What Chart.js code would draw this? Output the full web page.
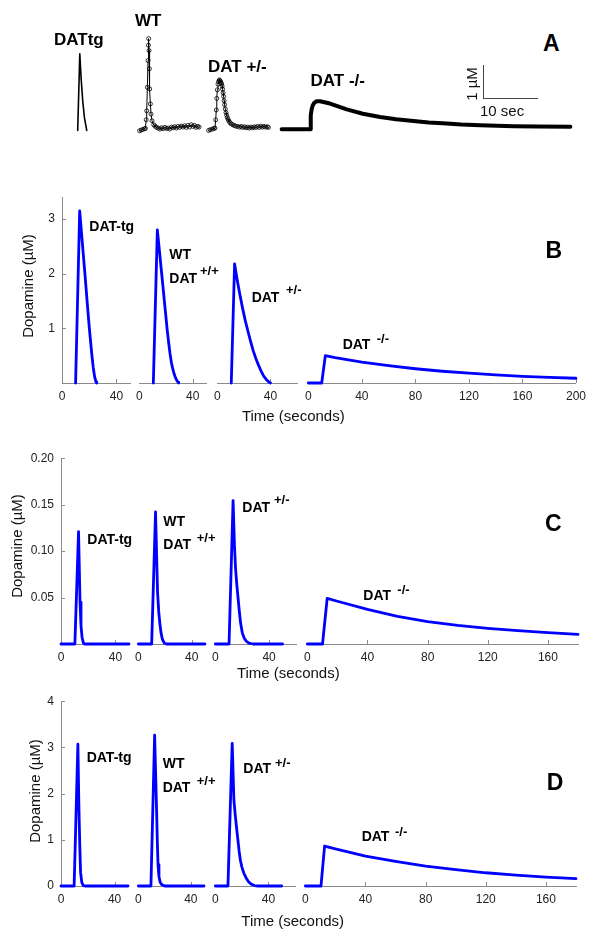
<!DOCTYPE html>
<html><head><meta charset="utf-8">
<script src="https://cdn.jsdelivr.net/npm/chart.js@4.4.0/dist/chart.umd.min.js"></script>
<style>
html,body{margin:0;padding:0;background:#fff;}
#fig{position:relative;width:600px;height:951px;overflow:hidden;font-family:"Liberation Sans",Arial,sans-serif;background:#fff;}
canvas{position:absolute;}
.t{position:absolute;white-space:nowrap;line-height:1;color:#000;}
.lb{font-weight:bold;font-size:14px;}
.sp{font-weight:bold;font-size:13px;}
.al{font-weight:bold;font-size:17px;}
.pl{font-weight:bold;font-size:23px;}
.ax{font-size:15px;color:#111;}
.sb{font-size:15px;color:#111;}
.ln{position:absolute;background:#444;}
</style></head><body><div id="fig"></div>
<script>
// ---------- DATA (time in seconds, dopamine in µM) ----------
// Panel A: recorded traces
const A_TG = [[0,0],[0.37,2.33],[0.6,1.6],[0.9,0.88],[1.2,0.38],[1.6,0]];
const A_WT = [[0,-0.08],[0.3,-0.06],[0.6,-0.04],[0.9,-0.02],[1.05,-0.01],[1.2,0.25],[1.29,0.52],[1.41,1.23],[1.53,2.04],[1.6,2.5],[1.65,2.7],[1.71,2.34],[1.78,1.79],[1.84,1.18],[1.96,0.73],[2.08,0.42],[2.26,0.22],[2.57,0.1],[2.8,0.06],[3.07,0.02],[3.4,0.0],[3.7,-0.03],[4.0,0.01],[4.3,-0.02],[4.6,0.02],[4.9,-0.01],[5.2,0.0],[5.5,-0.03],[5.8,0.03],[6.1,0.01],[6.4,0.04],[6.7,0.0],[7.0,0.05],[7.3,0.02],[7.6,0.06],[7.9,0.03],[8.2,0.07],[8.5,0.02],[8.8,0.08],[9.1,0.03],[9.4,0.1],[9.7,0.05],[10.0,0.08],[10.3,0.02],[10.6,0.05],[10.85,0.03]];
const A_HET = [[0,-0.07],[0.3,-0.05],[0.68,-0.03],[1.0,-0.01],[1.17,0],[1.3,0.25],[1.41,0.55],[1.5,0.9],[1.6,1.16],[1.72,1.33],[1.84,1.41],[1.97,1.46],[2.06,1.44],[2.15,1.42],[2.27,1.38],[2.39,1.34],[2.48,1.27],[2.57,1.18],[2.66,1.07],[2.76,0.96],[2.85,0.83],[2.94,0.71],[3.07,0.58],[3.2,0.47],[3.32,0.39],[3.44,0.32],[3.6,0.26],[3.75,0.21],[3.95,0.16],[4.17,0.13],[4.45,0.1],[4.72,0.08],[5.0,0.06],[5.33,0.05],[5.7,0.03],[6.0,0.05],[6.3,0.02],[6.6,0.04],[6.9,0.01],[7.2,0.03],[7.5,0.0],[7.8,0.03],[8.1,0.01],[8.4,0.04],[8.7,0.02],[9.0,0.05],[9.3,0.02],[9.6,0.06],[9.9,0.03],[10.2,0.05],[10.5,0.03],[10.8,0.04],[11.0,0.02]];
const A_KO = [[0,0],[5.33,0],[5.33,0.21],[5.36,0.42],[5.5,0.6],[5.7,0.72],[5.94,0.79],[6.43,0.85],[7.04,0.85],[8.88,0.78],[11.95,0.6],[14.9,0.47],[18.07,0.37],[21,0.3],[24.2,0.25],[27,0.205],[30.3,0.17],[33,0.14],[36.45,0.12],[39.5,0.105],[42.6,0.09],[47,0.08],[53,0.07]];

// Panel B
const B_TG  = [[10,0],[13,3.15],[15,2.55],[17,1.95],[19,1.33],[20,1.03],[21,0.76],[22,0.5],[23,0.28],[24,0.11],[25,0.02],[25.5,0]];
const B_WT  = [[10.5,0],[13.5,2.74],[15,2.38],[17,1.9],[19,1.41],[21,0.93],[22,0.72],[23,0.53],[24,0.37],[25,0.26],[26,0.17],[27,0.1],[28,0.05],[29,0.015],[29.5,0]];
const B_HET = [[10.5,0],[13,2.13],[15,1.84],[17,1.58],[19,1.34],[21,1.12],[23,0.93],[25,0.75],[27,0.58],[29,0.44],[31,0.32],[33,0.21],[35,0.12],[37,0.06],[39,0.015],[40,0]];
const B_KO  = [[0,0],[10,0],[12.7,0.49],[20,0.455],[40,0.375],[60,0.31],[80,0.255],[100,0.21],[120,0.175],[140,0.145],[160,0.12],[180,0.1],[200,0.085]];

// Panel C
const C_TG  = [[0,0],[10.2,0],[12.9,0.121],[14,0.045],[14.7,0.02],[15.5,0.007],[16.5,0.001],[17.5,0],[50,0]];
const C_WT  = [[0,0],[10,0],[12.9,0.139],[14.4,0.055],[15.3,0.034],[16.1,0.022],[17,0.012],[18,0.005],[19.5,0.001],[21,0],[50,0]];
const C_HET = [[0,0],[10.2,0],[13.2,0.151],[14.2,0.105],[15,0.08],[16,0.062],[16.8,0.05],[17.8,0.035],[18.8,0.022],[20,0.012],[21.5,0.006],[23,0.003],[25,0.001],[28,0],[50,0]];
const C_KO  = [[0,0],[10.1,0],[13.2,0.048],[20,0.045],[40,0.0365],[60,0.029],[80,0.0235],[100,0.0195],[120,0.0165],[140,0.014],[160,0.0119],[180,0.0102]];

// Panel D
const D_TG  = [[0,0],[9.8,0],[12.6,3.07],[13.3,1.81],[14,0.9],[14.6,0.3],[15.5,0.08],[16.6,0.01],[18,0],[50,0]];
const D_WT  = [[0,0],[9.6,0],[12.4,3.19],[13.9,1.6],[14.5,0.9],[15,0.45],[15.7,0.2],[16.6,0.08],[18,0.025],[19.5,0.005],[21,0],[50,0]];
const D_HET = [[0,0],[9.5,0],[12.7,3.02],[14,1.81],[15,1.5],[16.5,1.1],[18,0.72],[18.9,0.54],[20,0.4],[21.5,0.27],[23.2,0.17],[25,0.09],[27,0.04],[29.5,0.01],[32,0],[50,0]];
const D_KO  = [[0,0],[10.4,0],[12.8,0.846],[20,0.785],[40,0.634],[60,0.52],[80,0.42],[100,0.345],[120,0.28],[140,0.23],[160,0.19],[180,0.155]];

// Tick labels
const X_TICKS_SHORT = [0, 40];
const X_TICKS_B4 = [0, 40, 80, 120, 160, 200];
const X_TICKS_CD4 = [0, 40, 80, 120, 160];
const B_YTICKS = [1, 2, 3];
const C_YTICKS = [0.05, 0.10, 0.15, 0.20];
const D_YTICKS = [0, 1, 2, 3, 4];

// ---------- STYLE / LAYOUT ----------
const AXIS = '#8a8a8a';
const BLUE = '#0000ff';
const fig = document.getElementById('fig');
Chart.defaults.font.family = '"Liberation Sans", Arial, sans-serif';
Chart.defaults.font.size = 12;
Chart.defaults.color = '#222';

const inwardTicks = {
  id: 'inwardTicks',
  beforeDatasetsDraw(chart) {
    const {ctx, chartArea: a, scales: {x, y}} = chart;
    ctx.save(); ctx.strokeStyle = AXIS; ctx.lineWidth = 1; ctx.beginPath();
    if (x.options.display) x.ticks.forEach(t => {
      if (t.value === x.min) return;
      const px = Math.round(x.getPixelForValue(t.value)) + 0.5;
      ctx.moveTo(px, a.bottom); ctx.lineTo(px, a.bottom - 4);
    });
    if (y.options.display) y.ticks.forEach(t => {
      if (t.value === y.min) return;
      const py = Math.round(y.getPixelForValue(t.value)) + 0.5;
      ctx.moveTo(a.left, py); ctx.lineTo(a.left + 4, py);
    });
    ctx.stroke(); ctx.restore();
  }
};

function plot(o) {
  const padL = o.showY ? 46 : 8, padR = 14, padT = 10, padB = o.showX ? 26 : 8;
  const W = Math.round(o.w) + padL + padR, H = Math.round(o.h) + padT + padB;
  const c = document.createElement('canvas');
  c.width = W; c.height = H;
  c.style.left = Math.round(o.left - padL) + 'px'; c.style.top = Math.round(o.top - padT) + 'px';
  c.style.width = W + 'px'; c.style.height = H + 'px';
  fig.appendChild(c);
  new Chart(c, {
    type: 'line',
    data: { datasets: o.series.map(s => ({
      data: s.pts.map(p => ({x: p[0], y: p[1]})),
      borderColor: s.color, borderWidth: s.width, tension: 0, clip: false,
      borderJoinStyle: 'round', borderCapStyle: 'round',
      pointRadius: s.pr || 0, pointBorderWidth: 0.8, pointBorderColor: s.color,
      pointBackgroundColor: 'rgba(255,255,255,0)', fill: false
    })) },
    options: {
      responsive: false, animation: false, events: [],
      plugins: {legend: {display: false}, tooltip: {enabled: false}},
      layout: {padding: {left: o.showY ? 0 : padL, right: padR, top: padT, bottom: o.showX ? 0 : padB}},
      scales: {
        x: {
          type: 'linear', min: o.xMin, max: o.xMax, display: !!o.showX,
          grid: {display: false, drawTicks: false},
          border: {display: true, color: AXIS, width: 1},
          ticks: {autoSkip: false, maxRotation: 0, padding: 6},
          afterBuildTicks: s => { if (o.xTicks) s.ticks = o.xTicks.map(v => ({value: v})); },
          afterFit: s => { s.height = o.showX ? padB : 0; }
        },
        y: {
          type: 'linear', min: o.yMin, max: o.yMax, display: !!o.showY,
          grid: {display: false, drawTicks: false},
          border: {display: true, color: AXIS, width: 1},
          ticks: {autoSkip: false, padding: 7, callback: v => o.yFmt ? v.toFixed(o.yFmt) : String(v)},
          afterBuildTicks: s => { if (o.yTicks) s.ticks = o.yTicks.map(v => ({value: v})); },
          afterFit: s => { s.width = o.showY ? padL : 0; }
        }
      }
    },
    plugins: [inwardTicks]
  });
}

// Panel A traces: origin pixel, px per second, px per µM
const A_PPS = 5.44, A_PPU = 33;
function traceA(pts, ox, oy, tMin, tMax, vMin, vMax, style) {
  plot({left: ox + tMin * A_PPS, top: oy - vMax * A_PPU, w: (tMax - tMin) * A_PPS, h: (vMax - vMin) * A_PPU,
        xMin: tMin, xMax: tMax, yMin: vMin, yMax: vMax, showX: false, showY: false,
        series: [Object.assign({pts}, style)]});
}
traceA(A_TG, 77.3, 131, -0.3, 2.0, -0.2, 2.6, {color: '#000', width: 1.6});
traceA(A_WT, 140, 127.3, -0.3, 11.2, -0.3, 2.9, {color: '#000', width: 1, pr: 2});
traceA(A_HET, 208.3, 128.3, -0.3, 11.3, -0.3, 1.7, {color: '#000', width: 1, pr: 2});
traceA(A_KO, 281.7, 129, -0.3, 53.3, -0.3, 1.1, {color: '#000', width: 4});

// Panels B, C, D
function panel(p) {
  p.subs.forEach((s, i) => {
    plot({left: s.left, top: p.top, w: s.xMax * s.pps, h: p.height,
          xMin: 0, xMax: s.xMax, yMin: 0, yMax: p.yMax, showX: true, showY: i === 0,
          xTicks: s.ticks, yTicks: p.yTicks, yFmt: p.yFmt,
          series: [{pts: s.data, color: BLUE, width: 2.8}]});
  });
}
panel({top: 193, height: 190, yMax: 3.4, yTicks: B_YTICKS, subs: [
  {left: 62, pps: 1.357, xMax: 50, ticks: X_TICKS_SHORT, data: B_TG},
  {left: 138, pps: 1.357, xMax: 50, ticks: X_TICKS_SHORT, data: B_WT},
  {left: 216, pps: 1.357, xMax: 60, ticks: X_TICKS_SHORT, data: B_HET},
  {left: 307, pps: 1.357, xMax: 200, ticks: X_TICKS_B4, data: B_KO}]});
panel({top: 454, height: 190, yMax: 0.2, yTicks: C_YTICKS, yFmt: 2, subs: [
  {left: 61, pps: 1.367, xMax: 50, ticks: X_TICKS_SHORT, data: C_TG},
  {left: 137, pps: 1.367, xMax: 50, ticks: X_TICKS_SHORT, data: C_WT},
  {left: 214, pps: 1.367, xMax: 60, ticks: X_TICKS_SHORT, data: C_HET},
  {left: 306, pps: 1.5125, xMax: 180, ticks: X_TICKS_CD4, data: C_KO}]});
panel({top: 697, height: 189, yMax: 4, yTicks: D_YTICKS, subs: [
  {left: 61, pps: 1.345, xMax: 50, ticks: X_TICKS_SHORT, data: D_TG},
  {left: 137, pps: 1.345, xMax: 50, ticks: X_TICKS_SHORT, data: D_WT},
  {left: 214, pps: 1.345, xMax: 60, ticks: X_TICKS_SHORT, data: D_HET},
  {left: 304, pps: 1.51, xMax: 180, ticks: X_TICKS_CD4, data: D_KO}]});

// ---------- TEXT ----------
function txt(html, x, y, cls, mode) {
  const d = document.createElement('div');
  d.className = 't ' + cls; d.innerHTML = html;
  d.style.left = x + 'px'; d.style.top = y + 'px';
  d.style.transform = mode === 'c' ? 'translate(-50%,-50%)' : mode === 'r' ? 'translate(-50%,-50%) rotate(-90deg)' : 'translateY(-50%)';
  fig.appendChild(d);
}
// Panel A
txt('DATtg', 54, 38.5, 'al');
txt('WT', 135, 19.5, 'al');
txt('DAT +/-', 208, 66, 'al');
txt('DAT -/-', 310.5, 80, 'al');
txt('A', 543, 43, 'pl');
txt('1 µM', 471, 84, 'sb', 'r');
txt('10 sec', 480, 110, 'sb');
const v = document.createElement('div'); v.className = 'ln';
Object.assign(v.style, {left: '483px', top: '65px', width: '1px', height: '33px'}); fig.appendChild(v);
const h = document.createElement('div'); h.className = 'ln';
Object.assign(h.style, {left: '483px', top: '98px', width: '55px', height: '1px'}); fig.appendChild(h);

// Panel B
txt('DAT-tg', 89.3, 226, 'lb');
txt('WT', 169.3, 254, 'lb');
txt('DAT', 169.3, 277.7, 'lb'); txt('+/+', 200, 270, 'sp');
txt('DAT', 251.7, 296.7, 'lb'); txt('+/-', 286, 289.3, 'sp');
txt('DAT', 342.7, 344.3, 'lb'); txt('-/-', 376.7, 338.3, 'sp');
txt('B', 545.5, 249.7, 'pl');
txt('Dopamine (µM)', 27, 286, 'ax', 'r');
txt('Time (seconds)', 293.3, 415, 'ax', 'c');

// Panel C
txt('DAT-tg', 87.3, 539, 'lb');
txt('WT', 163.3, 521, 'lb');
txt('DAT', 163.3, 544.3, 'lb'); txt('+/+', 196.7, 537.3, 'sp');
txt('DAT', 242.3, 507.3, 'lb'); txt('+/-', 274, 499.3, 'sp');
txt('DAT', 363.3, 595, 'lb'); txt('-/-', 397.3, 589.3, 'sp');
txt('C', 545, 523.3, 'pl');
txt('Dopamine (µM)', 15.5, 546, 'ax', 'r');
txt('Time (seconds)', 288.3, 671.7, 'ax', 'c');

// Panel D
txt('DAT-tg', 86.7, 756.7, 'lb');
txt('WT', 162.7, 763.3, 'lb');
txt('DAT', 162.7, 786.7, 'lb'); txt('+/+', 196.7, 780, 'sp');
txt('DAT', 243.3, 767.7, 'lb'); txt('+/-', 275, 761.7, 'sp');
txt('DAT', 361.7, 836, 'lb'); txt('-/-', 395, 830.7, 'sp');
txt('D', 546.7, 782, 'pl');
txt('Dopamine (µM)', 33.5, 791, 'ax', 'r');
txt('Time (seconds)', 292.7, 920, 'ax', 'c');
</script></body></html>
